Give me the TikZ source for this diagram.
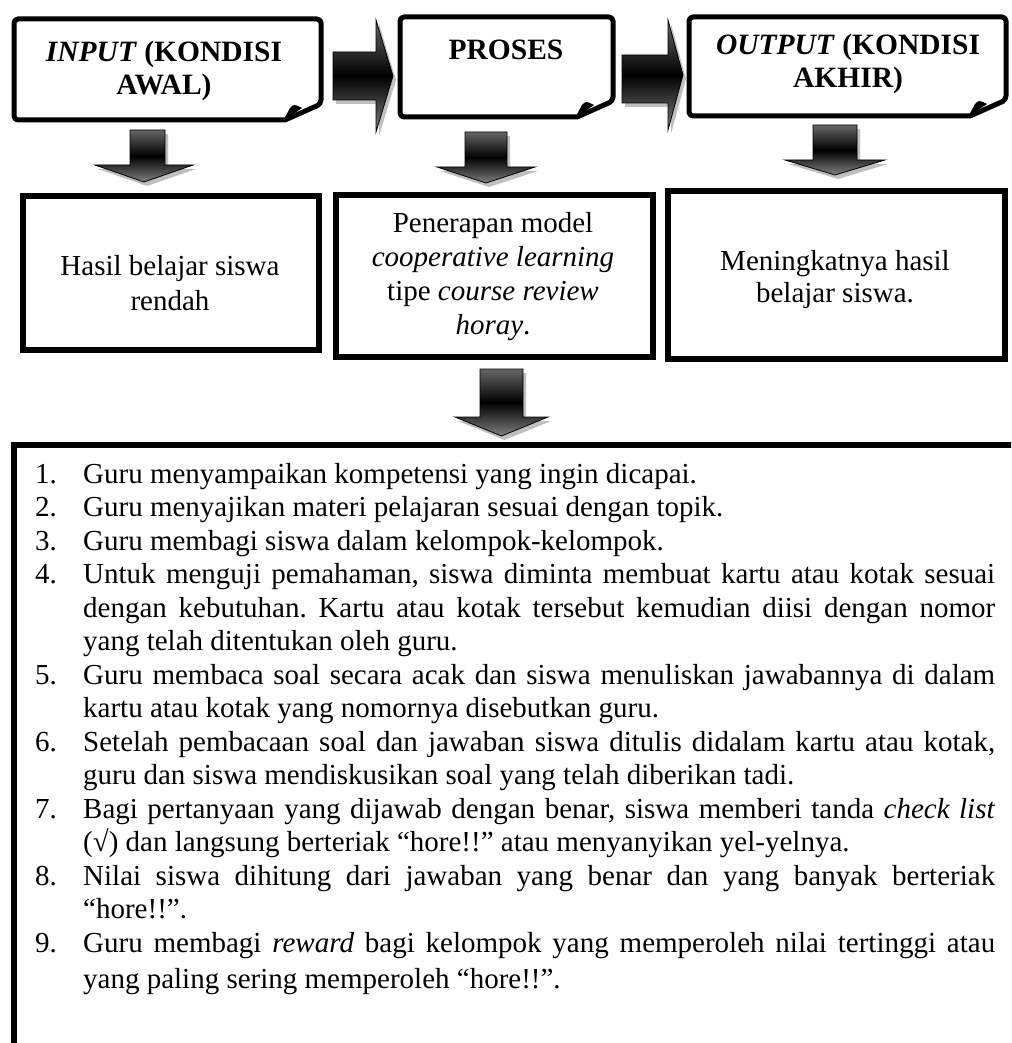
\documentclass[tikz,border=0pt]{standalone}
\usepackage{fontspec}
\setmainfont{Liberation Serif}
\frenchspacing
\newcommand\ljust[2]{\hbox to 960pt{\hbox to 48pt{#1\hfil}\hbox to 912pt{#2}}}
\newcommand\lrag[2]{\hbox to 960pt{\hbox to 48pt{#1\hfil}#2\hfil}}
\tikzset{
  docbox/.style={draw=black, line width=5pt, fill=white, line join=round},
  rowbox/.style={draw=black, line width=6pt, fill=white, inner sep=0pt},
  arrowbody/.style={top color=black!60, bottom color=black!50, middle color=black, draw=black, line width=0.8pt},
  arrowshadow/.style={fill=black!25},
  headtxt/.style={font=\fontsize{29.5}{33}\selectfont\bfseries, align=center, inner sep=0pt},
  bodytxt/.style={font=\fontsize{29}{35}\selectfont, align=center, inner sep=0pt},
}
% doc box: L T R B
\newcommand\docshape[4]{%
  \draw[docbox] (#1,#2+30) [rounded corners=4pt] -- (#1,#2) -- (#3,#2) -- (#3,#4-16) [sharp corners] -- (#3-36,#4) [rounded corners=4pt] -- (#1,#4) -- cycle;
  \fill[black] (#3-38,#4+1) -- (#3-31,#4-12) .. controls (#3-27,#4-16) .. (#3-19,#4-12) -- cycle;
}
% right arrow: x0 x1 x2 shafttop shaftbottom headtop headbottom
\newcommand\rarrow[7]{%
  \fill[arrowshadow, shift={(3,4)}] (#1,#4) -- (#2,#4) -- (#2,#6) -- (#3,{(#6+#7)/2}) -- (#2,#7) -- (#2,#5) -- (#1,#5) -- cycle;
  \draw[arrowbody] (#1,#4) -- (#2,#4) -- (#2,#6) -- (#3,{(#6+#7)/2}) -- (#2,#7) -- (#2,#5) -- (#1,#5) -- cycle;
}
% down arrow: shaftL shaftR headL headR top base tip
\newcommand\darrow[7]{%
  \fill[arrowshadow, shift={(3,4)}] (#1,#5) -- (#2,#5) -- (#2,#6) -- (#4,#6) -- ({(#3+#4)/2},#7) -- (#3,#6) -- (#1,#6) -- cycle;
  \draw[arrowbody] (#1,#5) -- (#2,#5) -- (#2,#6) -- (#4,#6) -- ({(#3+#4)/2},#7) -- (#3,#6) -- (#1,#6) -- cycle;
}
\begin{document}
\begin{tikzpicture}[x=1pt,y=-1pt]
\useasboundingbox (0,0) rectangle (1011,1043);
\clip (0,0) rectangle (1011,1043);
\fill[white] (0,0) rectangle (1011,1043);

% top row documents
\docshape{14}{19}{321}{120}
\docshape{400}{17}{613}{117}
\docshape{689}{17}{1006}{116}
\node[headtxt, anchor=base] (input) at (164,95) {\textit{INPUT} (KONDISI\\AWAL)};
\node[headtxt, anchor=base] (proses) at (506,60) {PROSES};
\node[headtxt, anchor=base] (output) at (848,88) {\textit{OUTPUT} (KONDISI\\AKHIR)};

% right arrows
\rarrow{333}{376}{393}{52}{100}{20}{132}
\rarrow{622}{668}{683}{55}{103}{20}{130}

% down arrows
\darrow{130}{165}{95}{193}{130}{165}{182}
\darrow{465}{507}{437}{535}{132}{167}{183}
\darrow{813}{857}{785}{885}{125}{160}{175}

% second row boxes
\node[rowbox, minimum width=296pt, minimum height=154pt] (boxA) at (171,273) {};
\node[rowbox, minimum width=317pt, minimum height=162pt] (boxB) at (494.5,276) {};
\node[rowbox, minimum width=337pt, minimum height=168pt] (boxC) at (836.5,275) {};
\node[bodytxt, anchor=base] (hasil) at (170,310) {Hasil belajar siswa\\rendah};
\node[bodytxt, anchor=base, font=\fontsize{29}{34}\selectfont] (penerapan) at (493,334) {Penerapan model\\\textit{cooperative learning}\\tipe \textit{course review}\\\textit{horay}.};
\node[bodytxt, anchor=base, font=\fontsize{29}{32}\selectfont] (meningkat) at (835,302) {Meningkatnya hasil\\belajar siswa.};

% down arrow to steps
\darrow{480}{523}{455}{548}{369}{417}{436}

% bottom box
\draw[line width=6pt, line join=miter] (1030,445) -- (13.5,445) -- (13.5,1070);
\node[anchor=base west, inner sep=0pt, font=\fontsize{29}{33.5}\selectfont] (steps) at (35,483) {\vtop{\hsize=960pt \lineskiplimit=-100pt
\lrag{1.}{Guru menyampaikan kompetensi yang ingin dicapai.}
\lrag{2.}{Guru menyajikan materi pelajaran sesuai dengan topik.}
\lrag{3.}{Guru membagi siswa dalam kelompok-kelompok.}
\ljust{4.}{Untuk menguji pemahaman, siswa diminta membuat kartu atau kotak sesuai}
\ljust{}{dengan kebutuhan. Kartu atau kotak tersebut kemudian diisi dengan nomor}
\lrag{}{yang telah ditentukan oleh guru.}
\ljust{5.}{Guru membaca soal secara acak dan siswa menuliskan jawabannya di dalam}
\lrag{}{kartu atau kotak yang nomornya  disebutkan guru.}
\ljust{6.}{Setelah pembacaan soal dan jawaban siswa ditulis didalam kartu atau kotak,}
\lrag{}{guru dan siswa mendiskusikan soal yang telah diberikan tadi.}
\ljust{7.}{Bagi pertanyaan yang dijawab dengan benar, siswa memberi tanda \textit{check list}}
\lrag{}{(√) dan langsung berteriak “hore!!” atau menyanyikan yel-yelnya.}
\ljust{8.}{Nilai siswa dihitung dari jawaban yang benar dan yang banyak berteriak}
\lrag{}{“hore!!”.}
\ljust{9.}{Guru membagi \textit{reward}  bagi kelompok yang memperoleh nilai tertinggi atau}
\vskip 3pt
\lrag{}{yang paling sering memperoleh “hore!!”.}
}};
\end{tikzpicture}
\end{document}
